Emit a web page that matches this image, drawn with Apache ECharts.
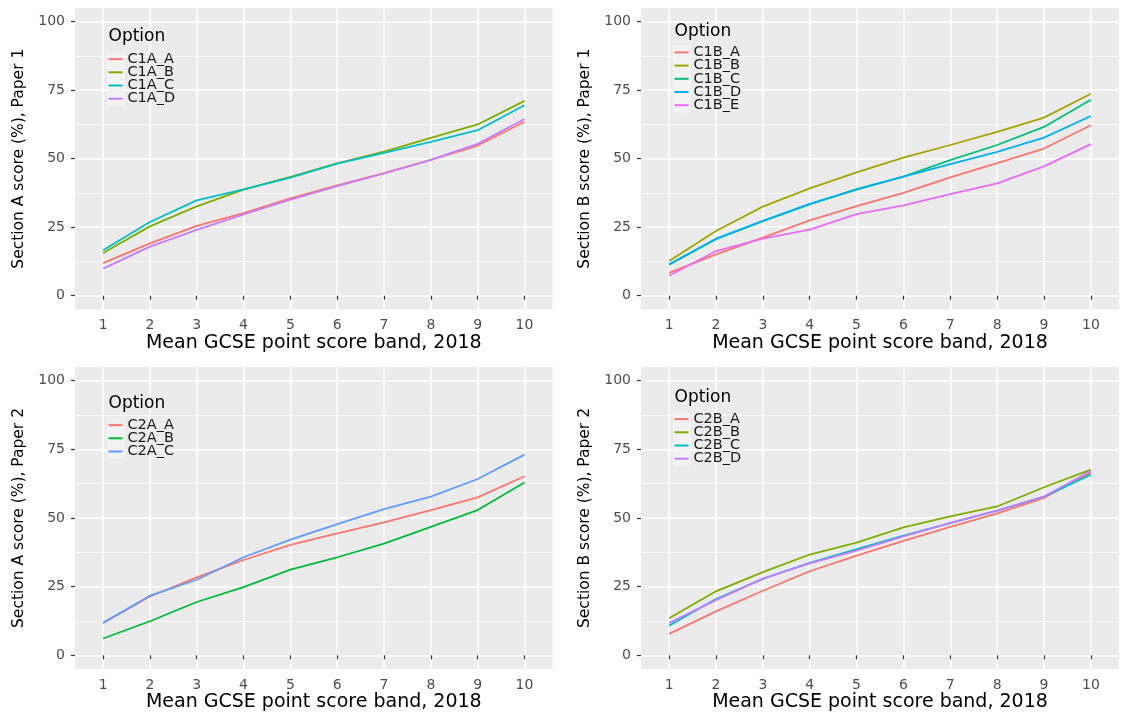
<!DOCTYPE html>
<html><head><meta charset="utf-8">
<script src="https://cdn.jsdelivr.net/npm/echarts@6/dist/echarts.min.js"></script>
<style>html,body{margin:0;padding:0;background:#fff}#c{width:1121px;height:713px}</style>
</head><body><div id="c"></div>
<script>
// ---- data ----
const bands = [1, 2, 3, 4, 5, 6, 7, 8, 9, 10];
const yTicks = [0, 25, 50, 75, 100];
const yMinor = [12.5, 37.5, 62.5, 87.5];
const xTitle = 'Mean GCSE point score band, 2018';
const yTitles = ['Section A score (%), Paper 1', 'Section B score (%), Paper 1',
                 'Section A score (%), Paper 2', 'Section B score (%), Paper 2'];
const legendTitle = 'Option';

const C1A_names = ['C1A_A', 'C1A_B', 'C1A_C', 'C1A_D'];
const C1A_A = [11.9, 19.1, 25.5, 30.1, 35.5, 40.3, 44.7, 49.6, 54.8, 63.5];
const C1A_B = [15.6, 25.3, 32.6, 38.7, 43.4, 48.3, 52.6, 57.6, 62.5, 71.1];
const C1A_C = [16.6, 26.9, 34.8, 38.8, 43.1, 48.2, 52.1, 56.1, 60.4, 69.5];
const C1A_D = [9.9, 17.9, 24.0, 29.7, 35.1, 40.0, 44.6, 49.6, 55.4, 64.5];

const C1B_names = ['C1B_A', 'C1B_B', 'C1B_C', 'C1B_D', 'C1B_E'];
const C1B_A = [8.3, 15.1, 21.2, 27.5, 32.7, 37.5, 43.2, 48.4, 53.7, 62.2];
const C1B_B = [12.7, 23.6, 32.5, 39.2, 45.0, 50.4, 55.0, 59.8, 65.0, 73.7];
const C1B_C = [11.3, 20.6, 27.2, 33.3, 38.9, 43.5, 49.5, 55.0, 61.6, 71.5];
const C1B_D = [11.5, 20.8, 27.3, 33.5, 38.7, 43.5, 48.0, 52.5, 57.7, 65.6];
const C1B_E = [7.3, 16.3, 20.8, 24.1, 29.8, 33.0, 37.1, 41.0, 47.2, 55.3];

const C2A_names = ['C2A_A', 'C2A_B', 'C2A_C'];
const C2A_A = [11.8, 21.4, 28.4, 34.7, 40.2, 44.4, 48.4, 52.9, 57.5, 65.2];
const C2A_B = [6.1, 12.4, 19.4, 24.8, 31.2, 35.7, 40.7, 46.8, 52.9, 62.9];
const C2A_C = [11.8, 21.7, 27.5, 35.7, 42.1, 47.8, 53.2, 57.8, 64.2, 73.1];

const C2B_names = ['C2B_A', 'C2B_B', 'C2B_C', 'C2B_D'];
const C2B_A = [7.8, 16.0, 23.5, 30.6, 36.3, 41.7, 46.8, 51.7, 57.3, 66.6];
const C2B_B = [13.5, 23.3, 30.3, 36.7, 41.0, 46.6, 50.6, 54.2, 61.2, 67.6];
const C2B_C = [10.8, 20.5, 27.8, 33.7, 38.7, 43.6, 48.1, 52.7, 57.8, 65.8];
const C2B_D = [11.8, 20.1, 27.9, 33.5, 38.1, 43.3, 48.2, 52.7, 57.8, 67.2];

// ---- styling / layout ----
const pal3 = ['#F8766D', '#00BA38', '#619CFF'];
const pal4 = ['#F8766D', '#7CAE00', '#00BFC4', '#C77CFF'];
const pal5 = ['#F8766D', '#A3A500', '#00BF7D', '#00B0F6', '#E76BF3'];
const FONT = 'DejaVu Sans';

const panels = [
  { names: C1A_names, values: [C1A_A, C1A_B, C1A_C, C1A_D], colors: pal4,
    grid: { left: 75, top: 8, width: 477.6, height: 301.4 }, legTop: 52.4, optY: 38 },
  { names: C1B_names, values: [C1B_A, C1B_B, C1B_C, C1B_D, C1B_E], colors: pal5,
    grid: { left: 641, top: 8, width: 478, height: 301.4 }, legTop: 45.7, optY: 32.3 },
  { names: C2A_names, values: [C2A_A, C2A_B, C2A_C], colors: pal3,
    grid: { left: 75, top: 367, width: 477.6, height: 302 }, legTop: 418.4, optY: 404.3 },
  { names: C2B_names, values: [C2B_A, C2B_B, C2B_C, C2B_D], colors: pal4,
    grid: { left: 641, top: 367, width: 478, height: 302 }, legTop: 412.4, optY: 398.3 }
];

const grid = [], xAxis = [], yAxis = [], series = [], legend = [], title = [], graphic = [];
panels.forEach((p, i) => {
  grid.push(Object.assign({ show: true, backgroundColor: '#EBEBEB', borderWidth: 0 }, p.grid));
  xAxis.push({
    type: 'value', gridIndex: i, min: 0.4, max: 10.6,
    name: xTitle, nameLocation: 'middle', nameGap: 21,
    nameTextStyle: { fontFamily: FONT, fontSize: 19, color: '#000' },
    axisLine: { show: false },
    axisTick: { show: true, length: 4, customValues: bands, lineStyle: { color: '#333333', width: 1.2 } },
    axisLabel: { customValues: bands, margin: 9, fontFamily: FONT, fontSize: 14, color: '#4D4D4D' },
    splitLine: { show: true, lineStyle: { color: '#FFFFFF', width: 1.5 } }
  });
  yAxis.push({
    type: 'value', gridIndex: i, min: -5, max: 105,
    name: yTitles[i], nameLocation: 'middle', nameGap: 48,
    nameTextStyle: { fontFamily: FONT, fontSize: 15.5, color: '#000' },
    axisLine: { show: false },
    axisTick: { show: true, length: 4, customValues: yTicks, lineStyle: { color: '#333333', width: 1.2 } },
    axisLabel: { customValues: yTicks, margin: 10, fontFamily: FONT, fontSize: 14, color: '#4D4D4D' },
    splitLine: { show: true, lineStyle: { color: '#FFFFFF', width: 1.5 } }
  });
  yAxis.push({
    type: 'value', gridIndex: i, min: -5, max: 105, position: 'left',
    axisLine: { show: false }, axisLabel: { show: false },
    axisTick: { show: false, customValues: yMinor },
    splitLine: { show: true, lineStyle: { color: '#FFFFFF', width: 0.7 } }
  });
  const g = p.grid;
  // legend key background
  graphic.push({
    type: 'rect', silent: true, z: 1,
    shape: { x: g.left + 32, y: p.legTop - 0.5, width: 18, height: p.names.length * 13.2 + 1 },
    style: { fill: '#F2F2F2' }
  });
  title.push({
    text: legendTitle, left: g.left + 33.5, top: p.optY - 9.5, padding: 0,
    textStyle: { fontFamily: FONT, fontSize: 17, fontWeight: 'normal', color: '#000' }
  });
  legend.push({
    orient: 'vertical', left: g.left + 33.5, top: p.legTop - 0.8, padding: 0,
    itemWidth: 14, itemHeight: 2, itemGap: -1.8, itemTextGap: 12, icon: 'rect',
    selectedMode: false,
    data: p.names,
    textStyle: { fontFamily: FONT, fontSize: 14.5, lineHeight: 13.2, color: '#1A1A1A' }
  });
  p.names.forEach((n, k) => {
    series.push({
      name: n, type: 'line', xAxisIndex: i, yAxisIndex: 2 * i,
      data: bands.map((b, j) => [b, p.values[k][j]]),
      showSymbol: false, symbol: 'none', silent: true,
      color: p.colors[k],
      lineStyle: { color: p.colors[k], width: 1.8 },
      z: 3
    });
  });
});

const chart = echarts.init(document.getElementById('c'), null, { renderer: 'canvas' });
chart.setOption({
  animation: false, backgroundColor: '#FFFFFF',
  grid, xAxis, yAxis, series, legend, title,
  graphic: { elements: graphic }
});
</script></body></html>
